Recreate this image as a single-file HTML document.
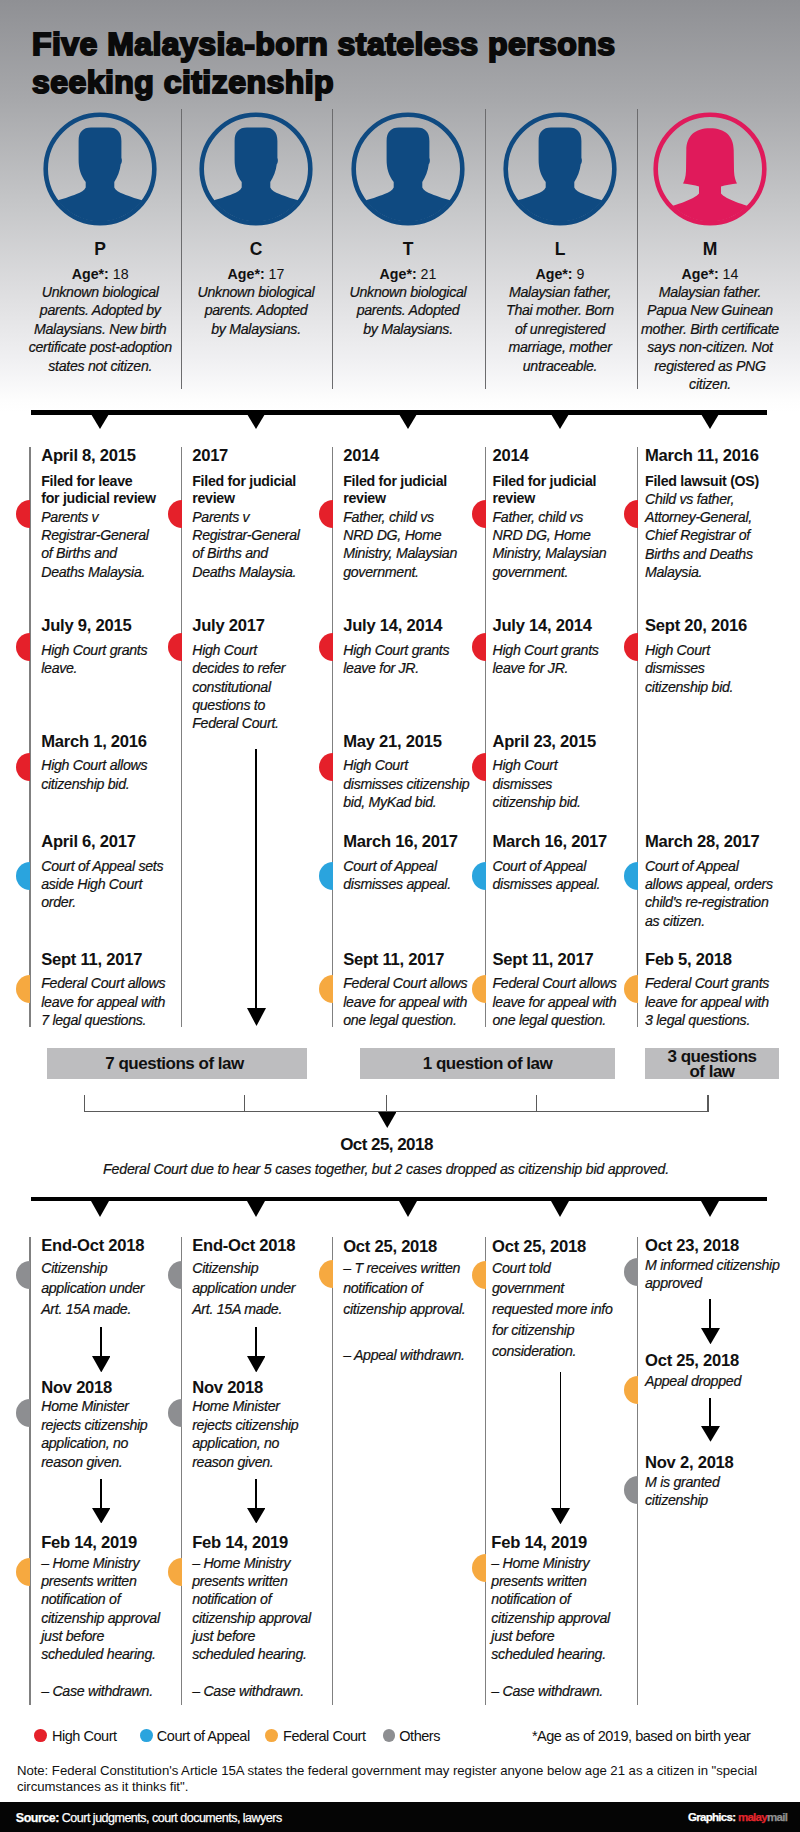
<!DOCTYPE html>
<html><head><meta charset="utf-8"><title>Five Malaysia-born stateless persons seeking citizenship</title>
<style>
*{margin:0;padding:0;box-sizing:border-box}
html,body{width:800px;height:1832px;overflow:hidden;background:#fff}
body{position:relative;font-family:"Liberation Sans",sans-serif;color:#111}
#hdr{position:absolute;left:0;top:0;width:800px;height:400px;height:412px;background:linear-gradient(to bottom,#8f9094 0px,#a7a8ab 100px,#c4c5c7 200px,#e0e0e2 300px,#f0f0f2 360px,#fdfdfd 400px,#ffffff 412px)}
div.d,div.b,div.i,div.nm,div.ag,div.q,div.lg,div.nt,div.ft{position:absolute;white-space:nowrap;line-height:20px}
.c{width:400px;text-align:center}
.d{font-weight:bold;font-size:16.6px;letter-spacing:-0.25px}
.b{font-weight:bold;font-size:14.2px;letter-spacing:-0.28px}
.i{font-style:italic;font-size:14.2px;letter-spacing:-0.3px;-webkit-text-stroke:0.2px #111}
.nm{font-weight:bold;font-size:17.5px}
.ag{font-size:14.2px}
.q{font-weight:bold;font-size:16px}
.q2{font-weight:bold;font-size:17px;letter-spacing:-0.5px;position:absolute;white-space:nowrap;line-height:20px}
.lg{font-size:14.5px;letter-spacing:-0.47px}
.nt{font-size:13.2px;letter-spacing:-0.035px}
.ft{font-size:12.5px;color:#fff;letter-spacing:-0.5px;-webkit-text-stroke:0.25px #fff}
.ft2{font-size:11.5px;letter-spacing:-0.7px}
.dot{position:absolute;border-radius:50%}
.hd{position:absolute}
.av{position:absolute}
#title{position:absolute;left:32px;font-weight:bold;font-size:32px;line-height:38.25px;color:#0a0a0a;white-space:nowrap;letter-spacing:0.45px;-webkit-text-stroke:2px #0a0a0a}
</style></head>
<body>
<div id="hdr"></div>
<div id="title" style="top:24.79px">Five Malaysia-born stateless persons<br>seeking citizenship</div>
<svg class="av" style="left:40.2px;top:108.5px" width="120" height="120" viewBox="-60 -60 120 120">
<defs><clipPath id="cp0"><circle cx="0" cy="0" r="52.5"/></clipPath></defs>
<circle cx="0" cy="0" r="54.3" fill="none" stroke="#0f4a81" stroke-width="4.6"/>
<path clip-path="url(#cp0)" fill="#0f4a81" d="M -9,-41.5 C -17,-41.5 -21.4,-37 -21.4,-28 L -21.4,-9.5 C -21.4,-0.5 -19.5,6 -14.3,13 L -14.3,18.5 C -15.5,21.5 -19,23.3 -23.5,25 C -31,28 -40,31.5 -70,38 L -70,70 L 70,70 L 70,38 C 40,31.5 31,28 23.5,25 C 19,23.3 15.5,21.5 14.3,18.5 L 14.3,13 C 17.5,8 20,2 20.8,-5 C 22,-6 22.2,-9.5 21.4,-11 L 21.4,-28 C 21.4,-37 17,-41.5 9,-41.5 Z"/>
</svg>
<svg class="av" style="left:196px;top:108.5px" width="120" height="120" viewBox="-60 -60 120 120">
<defs><clipPath id="cp1"><circle cx="0" cy="0" r="52.5"/></clipPath></defs>
<circle cx="0" cy="0" r="54.3" fill="none" stroke="#0f4a81" stroke-width="4.6"/>
<path clip-path="url(#cp1)" fill="#0f4a81" d="M -9,-41.5 C -17,-41.5 -21.4,-37 -21.4,-28 L -21.4,-9.5 C -21.4,-0.5 -19.5,6 -14.3,13 L -14.3,18.5 C -15.5,21.5 -19,23.3 -23.5,25 C -31,28 -40,31.5 -70,38 L -70,70 L 70,70 L 70,38 C 40,31.5 31,28 23.5,25 C 19,23.3 15.5,21.5 14.3,18.5 L 14.3,13 C 17.5,8 20,2 20.8,-5 C 22,-6 22.2,-9.5 21.4,-11 L 21.4,-28 C 21.4,-37 17,-41.5 9,-41.5 Z"/>
</svg>
<svg class="av" style="left:348px;top:108.5px" width="120" height="120" viewBox="-60 -60 120 120">
<defs><clipPath id="cp2"><circle cx="0" cy="0" r="52.5"/></clipPath></defs>
<circle cx="0" cy="0" r="54.3" fill="none" stroke="#0f4a81" stroke-width="4.6"/>
<path clip-path="url(#cp2)" fill="#0f4a81" d="M -9,-41.5 C -17,-41.5 -21.4,-37 -21.4,-28 L -21.4,-9.5 C -21.4,-0.5 -19.5,6 -14.3,13 L -14.3,18.5 C -15.5,21.5 -19,23.3 -23.5,25 C -31,28 -40,31.5 -70,38 L -70,70 L 70,70 L 70,38 C 40,31.5 31,28 23.5,25 C 19,23.3 15.5,21.5 14.3,18.5 L 14.3,13 C 17.5,8 20,2 20.8,-5 C 22,-6 22.2,-9.5 21.4,-11 L 21.4,-28 C 21.4,-37 17,-41.5 9,-41.5 Z"/>
</svg>
<svg class="av" style="left:500px;top:108.5px" width="120" height="120" viewBox="-60 -60 120 120">
<defs><clipPath id="cp3"><circle cx="0" cy="0" r="52.5"/></clipPath></defs>
<circle cx="0" cy="0" r="54.3" fill="none" stroke="#0f4a81" stroke-width="4.6"/>
<path clip-path="url(#cp3)" fill="#0f4a81" d="M -9,-41.5 C -17,-41.5 -21.4,-37 -21.4,-28 L -21.4,-9.5 C -21.4,-0.5 -19.5,6 -14.3,13 L -14.3,18.5 C -15.5,21.5 -19,23.3 -23.5,25 C -31,28 -40,31.5 -70,38 L -70,70 L 70,70 L 70,38 C 40,31.5 31,28 23.5,25 C 19,23.3 15.5,21.5 14.3,18.5 L 14.3,13 C 17.5,8 20,2 20.8,-5 C 22,-6 22.2,-9.5 21.4,-11 L 21.4,-28 C 21.4,-37 17,-41.5 9,-41.5 Z"/>
</svg>
<svg class="av" style="left:650px;top:108.5px" width="120" height="120" viewBox="-60 -60 120 120">
<defs><clipPath id="cp4"><circle cx="0" cy="0" r="52.5"/></clipPath></defs>
<circle cx="0" cy="0" r="54.3" fill="none" stroke="#e01a5b" stroke-width="4.6"/>
<path clip-path="url(#cp4)" fill="#e01a5b" d="M 0,-40.7 C -15,-40.7 -23.5,-33 -23.7,-19 L -24,2 C -24.3,8 -25.5,12 -27,14.5 C -22,15 -15,16 -11,17.5 L -11,24.5 C -13,27.5 -20,30.5 -26,33 C -35,36.5 -45,39 -70,45 L -70,70 L 70,70 L 70,45 C 45,39 35,36.5 26,33 C 20,30.5 13,27.5 11,24.5 L 11,17.5 C 15,16 22,15 27,14.5 C 25.5,12 24.3,8 24,2 L 23.7,-19 C 23.5,-33 15,-40.7 0,-40.7 Z"/>
</svg>
<div style="position:absolute;left:180.80px;top:108.70px;width:1.4px;height:280.00px;background:#6c6c6e"></div>
<div style="position:absolute;left:331.80px;top:108.70px;width:1.4px;height:280.00px;background:#6c6c6e"></div>
<div style="position:absolute;left:485.05px;top:108.70px;width:1.4px;height:280.00px;background:#6c6c6e"></div>
<div style="position:absolute;left:636.80px;top:108.70px;width:1.4px;height:280.00px;background:#6c6c6e"></div>
<div class="nm c" style="left:-99.80px;top:239.24px;">P</div>
<div class="ag c" style="left:-99.80px;top:263.58px"><b>Age*:</b> 18</div>
<div class="i c" style="left:-99.80px;top:281.98px;">Unknown biological</div>
<div class="i c" style="left:-99.80px;top:300.38px;">parents. Adopted by</div>
<div class="i c" style="left:-99.80px;top:318.78px;">Malaysians. New birth</div>
<div class="i c" style="left:-99.80px;top:337.18px;">certificate post-adoption</div>
<div class="i c" style="left:-99.80px;top:355.58px;">states not citizen.</div>
<div class="nm c" style="left:56.00px;top:239.24px;">C</div>
<div class="ag c" style="left:56.00px;top:263.58px"><b>Age*:</b> 17</div>
<div class="i c" style="left:56.00px;top:281.98px;">Unknown biological</div>
<div class="i c" style="left:56.00px;top:300.38px;">parents. Adopted</div>
<div class="i c" style="left:56.00px;top:318.78px;">by Malaysians.</div>
<div class="nm c" style="left:208.00px;top:239.24px;">T</div>
<div class="ag c" style="left:208.00px;top:263.58px"><b>Age*:</b> 21</div>
<div class="i c" style="left:208.00px;top:281.98px;">Unknown biological</div>
<div class="i c" style="left:208.00px;top:300.38px;">parents. Adopted</div>
<div class="i c" style="left:208.00px;top:318.78px;">by Malaysians.</div>
<div class="nm c" style="left:360.00px;top:239.24px;">L</div>
<div class="ag c" style="left:360.00px;top:263.58px"><b>Age*:</b> 9</div>
<div class="i c" style="left:360.00px;top:281.98px;">Malaysian father,</div>
<div class="i c" style="left:360.00px;top:300.38px;">Thai mother. Born</div>
<div class="i c" style="left:360.00px;top:318.78px;">of unregistered</div>
<div class="i c" style="left:360.00px;top:337.18px;">marriage, mother</div>
<div class="i c" style="left:360.00px;top:355.58px;">untraceable.</div>
<div class="nm c" style="left:510.00px;top:239.24px;">M</div>
<div class="ag c" style="left:510.00px;top:263.58px"><b>Age*:</b> 14</div>
<div class="i c" style="left:510.00px;top:281.98px;">Malaysian father.</div>
<div class="i c" style="left:510.00px;top:300.38px;">Papua New Guinean</div>
<div class="i c" style="left:510.00px;top:318.78px;">mother. Birth certificate</div>
<div class="i c" style="left:510.00px;top:337.18px;">says non-citizen. Not</div>
<div class="i c" style="left:510.00px;top:355.58px;">registered as PNG</div>
<div class="i c" style="left:510.00px;top:373.98px;">citizen.</div>
<div style="position:absolute;left:30.8px;top:410.3px;width:736px;height:4.6px;background:#000"></div>
<svg style="position:absolute;left:91.20px;top:414.00px" width="18" height="15"><polygon points="0,0 18,0 9.0,15" fill="#000"/></svg>
<svg style="position:absolute;left:247.00px;top:414.00px" width="18" height="15"><polygon points="0,0 18,0 9.0,15" fill="#000"/></svg>
<svg style="position:absolute;left:399.00px;top:414.00px" width="18" height="15"><polygon points="0,0 18,0 9.0,15" fill="#000"/></svg>
<svg style="position:absolute;left:551.00px;top:414.00px" width="18" height="15"><polygon points="0,0 18,0 9.0,15" fill="#000"/></svg>
<svg style="position:absolute;left:701.00px;top:414.00px" width="18" height="15"><polygon points="0,0 18,0 9.0,15" fill="#000"/></svg>
<div style="position:absolute;left:29.40px;top:446.50px;width:1.4px;height:580.00px;background:#808080"></div>
<div style="position:absolute;left:181.05px;top:446.50px;width:1.4px;height:580.00px;background:#808080"></div>
<div style="position:absolute;left:331.80px;top:446.50px;width:1.4px;height:580.00px;background:#808080"></div>
<div style="position:absolute;left:485.00px;top:446.50px;width:1.4px;height:580.00px;background:#808080"></div>
<div style="position:absolute;left:636.80px;top:446.50px;width:1.4px;height:580.00px;background:#808080"></div>
<div class="d" style="left:41.20px;top:445.65px;">April 8, 2015</div>
<div class="b" style="left:41.20px;top:470.68px;">Filed for leave</div>
<div class="b" style="left:41.20px;top:488.28px;">for judicial review</div>
<div class="i" style="left:41.20px;top:506.68px;">Parents v</div>
<div class="i" style="left:41.20px;top:525.03px;">Registrar-General</div>
<div class="i" style="left:41.20px;top:543.38px;">of Births and</div>
<div class="i" style="left:41.20px;top:561.73px;">Deaths Malaysia.</div>
<div class="d" style="left:41.20px;top:615.65px;">July 9, 2015</div>
<div class="i" style="left:41.20px;top:640.08px;">High Court grants</div>
<div class="i" style="left:41.20px;top:658.43px;">leave.</div>
<div class="d" style="left:41.20px;top:731.65px;">March 1, 2016</div>
<div class="i" style="left:41.20px;top:755.28px;">High Court allows</div>
<div class="i" style="left:41.20px;top:773.63px;">citizenship bid.</div>
<div class="d" style="left:41.20px;top:831.65px;">April 6, 2017</div>
<div class="i" style="left:41.20px;top:855.58px;">Court of Appeal sets</div>
<div class="i" style="left:41.20px;top:873.93px;">aside High Court</div>
<div class="i" style="left:41.20px;top:892.28px;">order.</div>
<div class="d" style="left:41.20px;top:949.65px;">Sept 11, 2017</div>
<div class="i" style="left:41.20px;top:973.38px;">Federal Court allows</div>
<div class="i" style="left:41.20px;top:991.73px;">leave for appeal with</div>
<div class="i" style="left:41.20px;top:1010.08px;">7 legal questions.</div>
<div class="d" style="left:192.20px;top:445.65px;">2017</div>
<div class="b" style="left:192.20px;top:470.68px;">Filed for judicial</div>
<div class="b" style="left:192.20px;top:488.28px;">review</div>
<div class="i" style="left:192.20px;top:506.68px;">Parents v</div>
<div class="i" style="left:192.20px;top:525.03px;">Registrar-General</div>
<div class="i" style="left:192.20px;top:543.38px;">of Births and</div>
<div class="i" style="left:192.20px;top:561.73px;">Deaths Malaysia.</div>
<div class="d" style="left:192.20px;top:615.65px;">July 2017</div>
<div class="i" style="left:192.20px;top:640.08px;">High Court</div>
<div class="i" style="left:192.20px;top:658.43px;">decides to refer</div>
<div class="i" style="left:192.20px;top:676.78px;">constitutional</div>
<div class="i" style="left:192.20px;top:695.13px;">questions to</div>
<div class="i" style="left:192.20px;top:713.48px;">Federal Court.</div>
<div class="d" style="left:343.20px;top:445.65px;">2014</div>
<div class="b" style="left:343.20px;top:470.68px;">Filed for judicial</div>
<div class="b" style="left:343.20px;top:488.28px;">review</div>
<div class="i" style="left:343.20px;top:506.68px;">Father, child vs</div>
<div class="i" style="left:343.20px;top:525.03px;">NRD DG, Home</div>
<div class="i" style="left:343.20px;top:543.38px;">Ministry, Malaysian</div>
<div class="i" style="left:343.20px;top:561.73px;">government.</div>
<div class="d" style="left:343.20px;top:615.65px;">July 14, 2014</div>
<div class="i" style="left:343.20px;top:640.08px;">High Court grants</div>
<div class="i" style="left:343.20px;top:658.43px;">leave for JR.</div>
<div class="d" style="left:343.20px;top:731.65px;">May 21, 2015</div>
<div class="i" style="left:343.20px;top:755.28px;">High Court</div>
<div class="i" style="left:343.20px;top:773.63px;">dismisses citizenship</div>
<div class="i" style="left:343.20px;top:791.98px;">bid, MyKad bid.</div>
<div class="d" style="left:343.20px;top:831.65px;">March 16, 2017</div>
<div class="i" style="left:343.20px;top:855.58px;">Court of Appeal</div>
<div class="i" style="left:343.20px;top:873.93px;">dismisses appeal.</div>
<div class="d" style="left:343.20px;top:949.65px;">Sept 11, 2017</div>
<div class="i" style="left:343.20px;top:973.38px;">Federal Court allows</div>
<div class="i" style="left:343.20px;top:991.73px;">leave for appeal with</div>
<div class="i" style="left:343.20px;top:1010.08px;">one legal question.</div>
<div class="d" style="left:492.50px;top:445.65px;">2014</div>
<div class="b" style="left:492.50px;top:470.68px;">Filed for judicial</div>
<div class="b" style="left:492.50px;top:488.28px;">review</div>
<div class="i" style="left:492.50px;top:506.68px;">Father, child vs</div>
<div class="i" style="left:492.50px;top:525.03px;">NRD DG, Home</div>
<div class="i" style="left:492.50px;top:543.38px;">Ministry, Malaysian</div>
<div class="i" style="left:492.50px;top:561.73px;">government.</div>
<div class="d" style="left:492.50px;top:615.65px;">July 14, 2014</div>
<div class="i" style="left:492.50px;top:640.08px;">High Court grants</div>
<div class="i" style="left:492.50px;top:658.43px;">leave for JR.</div>
<div class="d" style="left:492.50px;top:731.65px;">April 23, 2015</div>
<div class="i" style="left:492.50px;top:755.28px;">High Court</div>
<div class="i" style="left:492.50px;top:773.63px;">dismisses</div>
<div class="i" style="left:492.50px;top:791.98px;">citizenship bid.</div>
<div class="d" style="left:492.50px;top:831.65px;">March 16, 2017</div>
<div class="i" style="left:492.50px;top:855.58px;">Court of Appeal</div>
<div class="i" style="left:492.50px;top:873.93px;">dismisses appeal.</div>
<div class="d" style="left:492.50px;top:949.65px;">Sept 11, 2017</div>
<div class="i" style="left:492.50px;top:973.38px;">Federal Court allows</div>
<div class="i" style="left:492.50px;top:991.73px;">leave for appeal with</div>
<div class="i" style="left:492.50px;top:1010.08px;">one legal question.</div>
<div class="d" style="left:645.00px;top:445.65px;">March 11, 2016</div>
<div class="b" style="left:645.00px;top:470.68px;">Filed lawsuit (OS)</div>
<div class="i" style="left:645.00px;top:488.68px;">Child vs father,</div>
<div class="i" style="left:645.00px;top:507.03px;">Attorney-General,</div>
<div class="i" style="left:645.00px;top:525.38px;">Chief Registrar of</div>
<div class="i" style="left:645.00px;top:543.73px;">Births and Deaths</div>
<div class="i" style="left:645.00px;top:562.08px;">Malaysia.</div>
<div class="d" style="left:645.00px;top:615.65px;">Sept 20, 2016</div>
<div class="i" style="left:645.00px;top:640.08px;">High Court</div>
<div class="i" style="left:645.00px;top:658.43px;">dismisses</div>
<div class="i" style="left:645.00px;top:676.78px;">citizenship bid.</div>
<div class="d" style="left:645.00px;top:831.65px;">March 28, 2017</div>
<div class="i" style="left:645.00px;top:855.58px;">Court of Appeal</div>
<div class="i" style="left:645.00px;top:873.93px;">allows appeal, orders</div>
<div class="i" style="left:645.00px;top:892.28px;">child's re-registration</div>
<div class="i" style="left:645.00px;top:910.63px;">as citizen.</div>
<div class="d" style="left:645.00px;top:949.65px;">Feb 5, 2018</div>
<div class="i" style="left:645.00px;top:973.38px;">Federal Court grants</div>
<div class="i" style="left:645.00px;top:991.73px;">leave for appeal with</div>
<div class="i" style="left:645.00px;top:1010.08px;">3 legal questions.</div>
<div class="hd" style="left:16.10px;top:500.20px;width:14.00px;height:28.00px;background:#e5202a;border-radius:14px 0 0 14px"></div>
<div class="hd" style="left:167.75px;top:500.20px;width:14.00px;height:28.00px;background:#e5202a;border-radius:14px 0 0 14px"></div>
<div class="hd" style="left:318.50px;top:500.20px;width:14.00px;height:28.00px;background:#e5202a;border-radius:14px 0 0 14px"></div>
<div class="hd" style="left:471.70px;top:500.20px;width:14.00px;height:28.00px;background:#e5202a;border-radius:14px 0 0 14px"></div>
<div class="hd" style="left:623.50px;top:500.20px;width:14.00px;height:28.00px;background:#e5202a;border-radius:14px 0 0 14px"></div>
<div class="hd" style="left:16.10px;top:633.20px;width:14.00px;height:28.00px;background:#e5202a;border-radius:14px 0 0 14px"></div>
<div class="hd" style="left:167.75px;top:633.20px;width:14.00px;height:28.00px;background:#e5202a;border-radius:14px 0 0 14px"></div>
<div class="hd" style="left:318.50px;top:633.20px;width:14.00px;height:28.00px;background:#e5202a;border-radius:14px 0 0 14px"></div>
<div class="hd" style="left:471.70px;top:633.20px;width:14.00px;height:28.00px;background:#e5202a;border-radius:14px 0 0 14px"></div>
<div class="hd" style="left:623.50px;top:633.20px;width:14.00px;height:28.00px;background:#e5202a;border-radius:14px 0 0 14px"></div>
<div class="hd" style="left:16.10px;top:752.50px;width:14.00px;height:28.00px;background:#e5202a;border-radius:14px 0 0 14px"></div>
<div class="hd" style="left:318.50px;top:752.50px;width:14.00px;height:28.00px;background:#e5202a;border-radius:14px 0 0 14px"></div>
<div class="hd" style="left:471.70px;top:752.50px;width:14.00px;height:28.00px;background:#e5202a;border-radius:14px 0 0 14px"></div>
<div class="hd" style="left:16.10px;top:861.60px;width:14.00px;height:28.00px;background:#2aa4de;border-radius:14px 0 0 14px"></div>
<div class="hd" style="left:16.10px;top:975.00px;width:14.00px;height:28.00px;background:#f6a940;border-radius:14px 0 0 14px"></div>
<div class="hd" style="left:318.50px;top:861.60px;width:14.00px;height:28.00px;background:#2aa4de;border-radius:14px 0 0 14px"></div>
<div class="hd" style="left:318.50px;top:975.00px;width:14.00px;height:28.00px;background:#f6a940;border-radius:14px 0 0 14px"></div>
<div class="hd" style="left:471.70px;top:861.60px;width:14.00px;height:28.00px;background:#2aa4de;border-radius:14px 0 0 14px"></div>
<div class="hd" style="left:471.70px;top:975.00px;width:14.00px;height:28.00px;background:#f6a940;border-radius:14px 0 0 14px"></div>
<div class="hd" style="left:623.50px;top:861.60px;width:14.00px;height:28.00px;background:#2aa4de;border-radius:14px 0 0 14px"></div>
<div class="hd" style="left:623.50px;top:975.00px;width:14.00px;height:28.00px;background:#f6a940;border-radius:14px 0 0 14px"></div>
<div style="position:absolute;left:255.15px;top:749.00px;width:1.7px;height:260.00px;background:#000"></div>
<svg style="position:absolute;left:246.50px;top:1008.00px" width="19" height="18"><polygon points="0,0 19,0 9.5,18" fill="#000"/></svg>
<div style="position:absolute;left:46.9px;top:1048.3px;width:260.6px;height:30.40000000000009px;background:#bdbdbf"></div>
<div style="position:absolute;left:360px;top:1048.3px;width:254.5px;height:30.40000000000009px;background:#bdbdbf"></div>
<div style="position:absolute;left:645px;top:1048.3px;width:134px;height:30.40000000000009px;background:#bdbdbf"></div>
<div class="q2 c" style="left:-25.50px;top:1054.41px;">7 questions of law</div>
<div class="q2 c" style="left:287.50px;top:1054.41px;">1 question of law</div>
<div class="q2 c" style="left:512.00px;top:1046.51px;">3 questions</div>
<div class="q2 c" style="left:512.00px;top:1062.41px;">of law</div>
<div style="position:absolute;left:84.20px;top:1111.35px;width:624.40px;height:1.1px;background:#5a5a5a"></div>
<div style="position:absolute;left:83.75px;top:1094.50px;width:1.1px;height:17.90px;background:#5a5a5a"></div>
<div style="position:absolute;left:243.85px;top:1094.50px;width:1.1px;height:17.90px;background:#5a5a5a"></div>
<div style="position:absolute;left:386.25px;top:1094.50px;width:1.1px;height:17.90px;background:#5a5a5a"></div>
<div style="position:absolute;left:536.35px;top:1094.50px;width:1.1px;height:17.90px;background:#5a5a5a"></div>
<div style="position:absolute;left:707.45px;top:1094.50px;width:1.1px;height:17.90px;background:#5a5a5a"></div>
<svg style="position:absolute;left:377.55px;top:1111.50px" width="18.5" height="16"><polygon points="0,0 18.5,0 9.25,16" fill="#000"/></svg>
<div class="q2 c" style="left:186.50px;top:1134.61px;letter-spacing:-0.55px">Oct 25, 2018</div>
<div class="i c" style="left:186.00px;top:1158.88px;width:800px;left:-14px;letter-spacing:-0.22px">Federal Court due to hear 5 cases together, but 2 cases dropped as citizenship bid approved.</div>
<div style="position:absolute;left:30.8px;top:1196.5px;width:736px;height:4.7px;background:#000"></div>
<svg style="position:absolute;left:91.20px;top:1200.50px" width="18" height="16"><polygon points="0,0 18,0 9.0,16" fill="#000"/></svg>
<svg style="position:absolute;left:247.00px;top:1200.50px" width="18" height="16"><polygon points="0,0 18,0 9.0,16" fill="#000"/></svg>
<svg style="position:absolute;left:399.00px;top:1200.50px" width="18" height="16"><polygon points="0,0 18,0 9.0,16" fill="#000"/></svg>
<svg style="position:absolute;left:551.00px;top:1200.50px" width="18" height="16"><polygon points="0,0 18,0 9.0,16" fill="#000"/></svg>
<svg style="position:absolute;left:701.00px;top:1200.50px" width="18" height="16"><polygon points="0,0 18,0 9.0,16" fill="#000"/></svg>
<div style="position:absolute;left:29.40px;top:1237.00px;width:1.4px;height:468.00px;background:#808080"></div>
<div style="position:absolute;left:181.05px;top:1237.00px;width:1.4px;height:468.00px;background:#808080"></div>
<div style="position:absolute;left:331.80px;top:1237.00px;width:1.4px;height:468.00px;background:#808080"></div>
<div style="position:absolute;left:485.00px;top:1237.00px;width:1.4px;height:468.00px;background:#808080"></div>
<div style="position:absolute;left:636.80px;top:1237.00px;width:1.4px;height:468.00px;background:#808080"></div>
<div class="d" style="left:41.20px;top:1236.45px;">End-Oct 2018</div>
<div class="i" style="left:41.20px;top:1257.58px;">Citizenship</div>
<div class="i" style="left:41.20px;top:1278.33px;">application under</div>
<div class="i" style="left:41.20px;top:1299.08px;">Art. 15A made.</div>
<div style="position:absolute;left:99.95px;top:1327.00px;width:1.7px;height:29.50px;background:#000"></div>
<svg style="position:absolute;left:91.55px;top:1355.50px" width="18.5" height="16.5"><polygon points="0,0 18.5,0 9.25,16.5" fill="#000"/></svg>
<div class="d" style="left:41.20px;top:1377.65px;">Nov 2018</div>
<div class="i" style="left:41.20px;top:1396.38px;">Home Minister</div>
<div class="i" style="left:41.20px;top:1414.88px;">rejects citizenship</div>
<div class="i" style="left:41.20px;top:1433.38px;">application, no</div>
<div class="i" style="left:41.20px;top:1451.88px;">reason given.</div>
<div style="position:absolute;left:99.95px;top:1479.30px;width:1.7px;height:29.20px;background:#000"></div>
<svg style="position:absolute;left:91.55px;top:1507.50px" width="18.5" height="15.5"><polygon points="0,0 18.5,0 9.25,15.5" fill="#000"/></svg>
<div class="d" style="left:41.20px;top:1533.45px;">Feb 14, 2019</div>
<div class="i" style="left:41.20px;top:1552.58px;">– Home Ministry</div>
<div class="i" style="left:41.20px;top:1570.93px;">presents written</div>
<div class="i" style="left:41.20px;top:1589.28px;">notification of</div>
<div class="i" style="left:41.20px;top:1607.63px;">citizenship approval</div>
<div class="i" style="left:41.20px;top:1625.98px;">just before</div>
<div class="i" style="left:41.20px;top:1644.33px;">scheduled hearing.</div>
<div class="i" style="left:41.20px;top:1681.38px;">– Case withdrawn.</div>
<div class="hd" style="left:16.10px;top:1260.60px;width:14.00px;height:28.00px;background:#8d8e91;border-radius:14px 0 0 14px"></div>
<div class="hd" style="left:16.10px;top:1398.90px;width:14.00px;height:28.00px;background:#8d8e91;border-radius:14px 0 0 14px"></div>
<div class="hd" style="left:16.10px;top:1558.20px;width:14.00px;height:28.00px;background:#f6a940;border-radius:14px 0 0 14px"></div>
<div class="d" style="left:192.20px;top:1236.45px;">End-Oct 2018</div>
<div class="i" style="left:192.20px;top:1257.58px;">Citizenship</div>
<div class="i" style="left:192.20px;top:1278.33px;">application under</div>
<div class="i" style="left:192.20px;top:1299.08px;">Art. 15A made.</div>
<div style="position:absolute;left:255.15px;top:1327.00px;width:1.7px;height:29.50px;background:#000"></div>
<svg style="position:absolute;left:246.75px;top:1355.50px" width="18.5" height="16.5"><polygon points="0,0 18.5,0 9.25,16.5" fill="#000"/></svg>
<div class="d" style="left:192.20px;top:1377.65px;">Nov 2018</div>
<div class="i" style="left:192.20px;top:1396.38px;">Home Minister</div>
<div class="i" style="left:192.20px;top:1414.88px;">rejects citizenship</div>
<div class="i" style="left:192.20px;top:1433.38px;">application, no</div>
<div class="i" style="left:192.20px;top:1451.88px;">reason given.</div>
<div style="position:absolute;left:255.15px;top:1479.30px;width:1.7px;height:29.20px;background:#000"></div>
<svg style="position:absolute;left:246.75px;top:1507.50px" width="18.5" height="15.5"><polygon points="0,0 18.5,0 9.25,15.5" fill="#000"/></svg>
<div class="d" style="left:192.20px;top:1533.45px;">Feb 14, 2019</div>
<div class="i" style="left:192.20px;top:1552.58px;">– Home Ministry</div>
<div class="i" style="left:192.20px;top:1570.93px;">presents written</div>
<div class="i" style="left:192.20px;top:1589.28px;">notification of</div>
<div class="i" style="left:192.20px;top:1607.63px;">citizenship approval</div>
<div class="i" style="left:192.20px;top:1625.98px;">just before</div>
<div class="i" style="left:192.20px;top:1644.33px;">scheduled hearing.</div>
<div class="i" style="left:192.20px;top:1681.38px;">– Case withdrawn.</div>
<div class="hd" style="left:167.75px;top:1260.60px;width:14.00px;height:28.00px;background:#8d8e91;border-radius:14px 0 0 14px"></div>
<div class="hd" style="left:167.75px;top:1398.90px;width:14.00px;height:28.00px;background:#8d8e91;border-radius:14px 0 0 14px"></div>
<div class="hd" style="left:167.75px;top:1558.20px;width:14.00px;height:28.00px;background:#f6a940;border-radius:14px 0 0 14px"></div>
<div class="d" style="left:343.20px;top:1236.65px;">Oct 25, 2018</div>
<div class="i" style="left:343.20px;top:1257.58px;">– T receives written</div>
<div class="i" style="left:343.20px;top:1278.33px;">notification of</div>
<div class="i" style="left:343.20px;top:1299.08px;">citizenship approval.</div>
<div class="i" style="left:343.20px;top:1345.08px;">– Appeal withdrawn.</div>
<div class="hd" style="left:318.50px;top:1260.40px;width:14.00px;height:28.00px;background:#f6a940;border-radius:14px 0 0 14px"></div>
<div class="d" style="left:492.00px;top:1236.65px;">Oct 25, 2018</div>
<div class="i" style="left:492.00px;top:1257.58px;">Court told</div>
<div class="i" style="left:492.00px;top:1278.33px;">government</div>
<div class="i" style="left:492.00px;top:1299.08px;">requested more info</div>
<div class="i" style="left:492.00px;top:1319.83px;">for citizenship</div>
<div class="i" style="left:492.00px;top:1340.58px;">consideration.</div>
<div class="hd" style="left:471.70px;top:1260.60px;width:14.00px;height:28.00px;background:#f6a940;border-radius:14px 0 0 14px"></div>
<div style="position:absolute;left:559.75px;top:1371.80px;width:1.7px;height:136.70px;background:#000"></div>
<svg style="position:absolute;left:551.10px;top:1507.50px" width="19" height="16.299999999999955"><polygon points="0,0 19,0 9.5,16.299999999999955" fill="#000"/></svg>
<div class="d" style="left:491.30px;top:1532.65px;">Feb 14, 2019</div>
<div class="i" style="left:491.30px;top:1552.58px;">– Home Ministry</div>
<div class="i" style="left:491.30px;top:1570.93px;">presents written</div>
<div class="i" style="left:491.30px;top:1589.28px;">notification of</div>
<div class="i" style="left:491.30px;top:1607.63px;">citizenship approval</div>
<div class="i" style="left:491.30px;top:1625.98px;">just before</div>
<div class="i" style="left:491.30px;top:1644.33px;">scheduled hearing.</div>
<div class="i" style="left:491.30px;top:1681.38px;">– Case withdrawn.</div>
<div class="hd" style="left:471.70px;top:1553.50px;width:14.00px;height:28.00px;background:#f6a940;border-radius:14px 0 0 14px"></div>
<div class="d" style="left:645.00px;top:1236.45px;">Oct 23, 2018</div>
<div class="i" style="left:645.00px;top:1255.08px;">M informed citizenship</div>
<div class="i" style="left:645.00px;top:1273.28px;">approved</div>
<div class="hd" style="left:623.50px;top:1257.50px;width:14.00px;height:28.00px;background:#8d8e91;border-radius:14px 0 0 14px"></div>
<div style="position:absolute;left:709.15px;top:1298.80px;width:1.7px;height:29.70px;background:#000"></div>
<svg style="position:absolute;left:700.50px;top:1327.50px" width="19" height="16.299999999999955"><polygon points="0,0 19,0 9.5,16.299999999999955" fill="#000"/></svg>
<div class="d" style="left:645.00px;top:1350.95px;">Oct 25, 2018</div>
<div class="i" style="left:645.00px;top:1370.58px;">Appeal dropped</div>
<div class="hd" style="left:623.50px;top:1376.00px;width:14.00px;height:28.00px;background:#f6a940;border-radius:14px 0 0 14px"></div>
<div style="position:absolute;left:709.15px;top:1397.50px;width:1.7px;height:29.80px;background:#000"></div>
<svg style="position:absolute;left:700.50px;top:1426.30px" width="19" height="15.700000000000045"><polygon points="0,0 19,0 9.5,15.700000000000045" fill="#000"/></svg>
<div class="d" style="left:645.00px;top:1453.45px;">Nov 2, 2018</div>
<div class="i" style="left:645.00px;top:1472.08px;">M is granted</div>
<div class="i" style="left:645.00px;top:1490.28px;">citizenship</div>
<div class="hd" style="left:623.50px;top:1476.40px;width:14.00px;height:28.00px;background:#8d8e91;border-radius:14px 0 0 14px"></div>
<div class="dot" style="left:34.20px;top:1729.20px;width:12.8px;height:12.8px;background:#e5202a;border-radius:50%"></div>
<div class="lg" style="left:52.00px;top:1726.24px;">High Court</div>
<div class="dot" style="left:140.10px;top:1729.20px;width:12.8px;height:12.8px;background:#2aa4de;border-radius:50%"></div>
<div class="lg" style="left:156.80px;top:1726.24px;">Court of Appeal</div>
<div class="dot" style="left:265.10px;top:1729.20px;width:12.8px;height:12.8px;background:#f6a940;border-radius:50%"></div>
<div class="lg" style="left:283.00px;top:1726.24px;">Federal Court</div>
<div class="dot" style="left:382.60px;top:1729.20px;width:12.8px;height:12.8px;background:#8d8e91;border-radius:50%"></div>
<div class="lg" style="left:399.30px;top:1726.24px;">Others</div>
<div class="lg" style="left:531.90px;top:1726.24px;">*Age as of 2019, based on birth year</div>
<div class="nt" style="left:16.90px;top:1760.93px;">Note: Federal Constitution's Article 15A states the federal government may register anyone below age 21 as a citizen in "special</div>
<div class="nt" style="left:16.90px;top:1776.63px;">circumstances as it thinks fit".</div>
<div style="position:absolute;left:0;top:1802.3px;width:800px;height:30px;background:#050505"></div>
<div class="ft" style="left:15.8px;top:1807.67px"><b>Source:</b> Court judgments, court documents, lawyers</div>
<div class="ft ft2" style="left:688px;top:1807.32px"><b>Graphics: <span style="color:#e3262d;-webkit-text-stroke:0.25px #e3262d">malay</span><span style="color:#8f8f8f;-webkit-text-stroke:0.25px #8f8f8f">mail</span></b></div>
</body></html>
